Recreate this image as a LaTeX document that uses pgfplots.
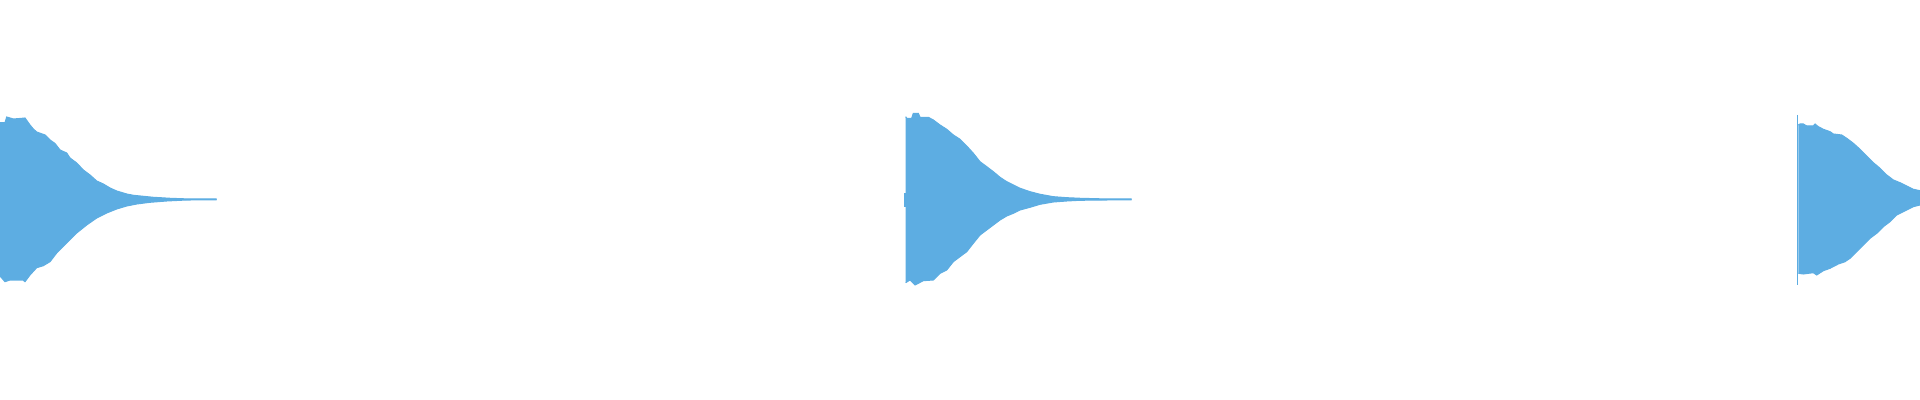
\documentclass[border=0pt]{standalone}
\usepackage{pgfplots}
\pgfplotsset{compat=1.18}
\usepgfplotslibrary{fillbetween}
\definecolor{wave}{HTML}{5DADE2}
\begin{document}
\begin{tikzpicture}
\begin{axis}[
  width=19.2cm, height=4cm, scale only axis,
  xmin=0, xmax=1920, ymin=-200.5, ymax=199.5,
  hide axis, clip=true,
]
\path (rel axis cs:0,0) rectangle (rel axis cs:1,1);
% burst 1
\addplot[name path=u1, draw=wave, line width=0.3pt] coordinates {
(0,76.8)(5,76.8)(6.7,82.5)(13.3,80.5)(20,81)(25,81.5)(30,74.5)(33.3,70.5)(36.7,67.5)(45,64.5)(50,59.5)(55,56)(60,49.5)(66.7,46.5)(70,41.5)(76.7,36.5)(83.3,29.5)(90,24.5)(96.7,18.5)(103.3,15.5)(110,11.5)(116.7,8.5)(126.7,5.5)(133.3,4.2)(143.3,3.2)(153.3,2.2)(170,1.2)(186.7,0.6)(216.7,0.5)};
\addplot[name path=l1, draw=wave, line width=0.3pt] coordinates {
(0,-76.5)(5,-82.2)(10,-80.5)(23,-80.5)(25,-82.2)(30,-75.5)(36.7,-68.2)(43.3,-66.2)(50,-62.2)(56.7,-53.5)(66.7,-43.5)(76.7,-33.5)(86.7,-25.5)(96.7,-18.5)(106.7,-13.5)(116.7,-9.5)(126.7,-6.5)(136.7,-4.5)(150,-2.8)(166.7,-1.5)(186.7,-0.5)(216.7,-0.4)};
\addplot[wave, draw=none] fill between[of=u1 and l1];
% burst 2
\addplot[draw=wave, line width=0.3pt] coordinates {(905,6.5)(905,-7.5)};
\addplot[name path=u2, draw=wave, line width=0.3pt] coordinates {
(905.7,82.8)(906.7,81.2)(911.7,81.2)(913.3,86.2)(918.3,86.2)(920,82.2)(928.3,82.2)(933.3,79.5)(940,74.5)(946.7,70.2)(953.3,64.5)(960,60.2)(966.7,53.5)(973.3,46.2)(980,37.8)(986.7,32.8)(993.3,27.8)(1000,22.2)(1006.7,17.8)(1013.3,14.5)(1020,11.2)(1030,7.8)(1040,5.2)(1053.3,2.8)(1066.7,1.8)(1080,1.2)(1103.3,0.6)(1131.7,0.6)};
\addplot[name path=l2, draw=wave, line width=0.3pt] coordinates {
(905.7,-83.2)(910,-80.5)(915,-85.5)(923.3,-81.2)(933.3,-80.5)(940,-73.8)(946.7,-70.5)(953.3,-62.2)(960,-57.2)(966.7,-52.2)(973.3,-43.8)(980,-35.5)(986.7,-30.5)(993.3,-25.5)(1000,-20.5)(1006.7,-16.5)(1013.3,-13.8)(1020,-10.5)(1030,-7.8)(1040,-4.8)(1053.3,-2.5)(1066.7,-1.5)(1080,-0.8)(1103.3,-0.5)(1131.7,-0.4)};
\addplot[wave, draw=none] fill between[of=u2 and l2];
% burst 3
\addplot[draw=wave, line width=0.4pt] coordinates {(1797.7,84.5)(1797.7,-85.5)};
\addplot[name path=u3, draw=wave, line width=0.3pt] coordinates {
(1798.3,74.5)(1800,75.5)(1803.3,75.5)(1806.7,73.5)(1813.3,73.5)(1815,75.5)(1818.3,72.8)(1823.3,70.2)(1830,67.8)(1833.3,65.5)(1841.7,64.5)(1846.7,61.2)(1853.3,56.2)(1860,50.2)(1866.7,43.5)(1873.3,36.8)(1880,31.2)(1886.7,24.5)(1893.3,19.5)(1900,16.8)(1906.7,13.5)(1913.3,10.2)(1920,8.8)};
\addplot[name path=l3, draw=wave, line width=0.3pt] coordinates {
(1798.3,-73.8)(1803.3,-74.5)(1813.3,-73.2)(1816.7,-75.5)(1823.3,-71.2)(1830,-68.8)(1838.3,-64.5)(1845,-62.2)(1850,-58.8)(1856.7,-52.2)(1863.3,-45.5)(1870,-38.8)(1876.7,-33.8)(1883.3,-27.2)(1890,-22.2)(1896.7,-15.5)(1903.3,-12.2)(1913.3,-7.2)(1920,-5.5)};
\addplot[wave, draw=none] fill between[of=u3 and l3];
\end{axis}
\end{tikzpicture}
\end{document}
